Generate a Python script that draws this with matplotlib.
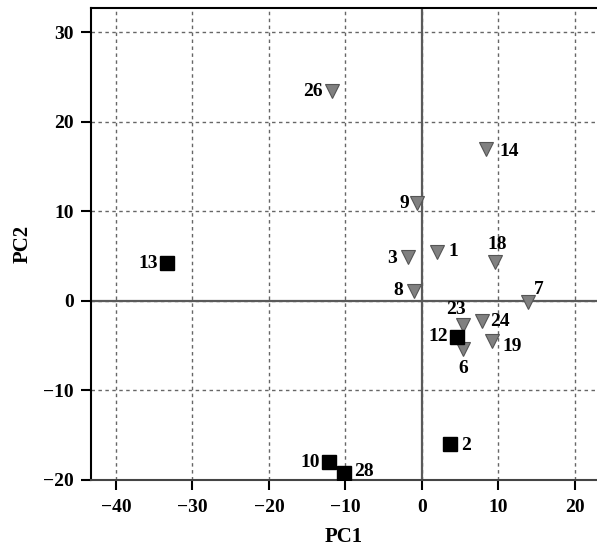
import matplotlib
matplotlib.use("Agg")
import matplotlib.pyplot as plt

# PCA scores
labels_tri = ["26", "14", "9", "1", "3", "18", "8", "7", "23", "24", "6", "19"]
pc1_tri = [-11.8, 8.4, -0.6, 2.0, -1.75, 9.6, -1.0, 13.9, 5.35, 7.8, 5.35, 9.2]
pc2_tri = [23.4, 17.0, 10.9, 5.5, 4.9, 4.3, 1.15, -0.15, -2.7, -2.3, -5.4, -4.5]

labels_sq = ["13", "12", "2", "10", "28"]
pc1_sq = [-33.3, 4.6, 3.7, -12.1, -10.2]
pc2_sq = [4.2, -4.0, -16.0, -18.0, -19.2]

x_ticks = [-40, -30, -20, -10, 0, 10, 20]
y_ticks = [-20, -10, 0, 10, 20, 30]

# label placement (offset in pixels, ha, va)
label_pos = {
    "26": (-9, 0, "right", "center"), "14": (13, -3, "left", "center"),
    "9": (-8, 0, "right", "center"), "1": (11, 0, "left", "center"),
    "3": (-12, -2, "right", "center"), "18": (2, 9, "center", "bottom"),
    "8": (-11, 0, "right", "center"), "7": (6, 4, "left", "bottom"),
    "23": (-7, 7, "center", "bottom"), "24": (9, 0, "left", "center"),
    "6": (0, -11, "center", "top"), "19": (10, -5, "left", "center"),
    "13": (-9, 0, "right", "center"), "12": (-9, 0, "right", "center"),
    "2": (11, -1, "left", "center"), "10": (-9, 0, "right", "center"),
    "28": (10, 1, "left", "center"),
}

plt.rcParams['font.family'] = ['Liberation Serif', 'DejaVu Serif']
plt.rcParams['axes.unicode_minus'] = True

fig = plt.figure(figsize=(5.97, 5.51), dpi=100)
ax = fig.add_axes([0.152, 0.129, 0.848, 0.8565])

ax.set_xlim(-43.3, 22.9)
ax.set_ylim(-20, 32.7)

ax.grid(True, color='#666666', linestyle=(0, (2.5, 2.5)), linewidth=1.0)
ax.set_axisbelow(True)
ax.axhline(0, color='#5a5a5a', linewidth=1.6, zorder=1.5)
ax.axvline(0, color='#5a5a5a', linewidth=1.6, zorder=1.5)

ax.plot(pc1_tri, pc2_tri, linestyle='none', marker='v', markersize=10.5,
        markerfacecolor='#808080', markeredgecolor='#555555', markeredgewidth=0.8, zorder=3)
ax.plot(pc1_sq, pc2_sq, linestyle='none', marker='s', markersize=9.5,
        markerfacecolor='black', markeredgecolor='black', zorder=3)

for lab, x, y in list(zip(labels_tri, pc1_tri, pc2_tri)) + list(zip(labels_sq, pc1_sq, pc2_sq)):
    dx, dy, ha, va = label_pos[lab]
    ax.annotate(lab, (x, y), xytext=(dx, dy), textcoords='offset pixels',
                ha=ha, va=va, fontsize=14, fontweight='bold', zorder=4)

ax.set_xticks(x_ticks)
ax.set_yticks(y_ticks)
ax.tick_params(axis='both', direction='out', length=7, width=1.5, labelsize=14)
ax.tick_params(axis='x', pad=7)
ax.tick_params(axis='y', pad=5)
for t in ax.get_xticklabels() + ax.get_yticklabels():
    t.set_fontweight('bold')

ax.spines['right'].set_visible(False)
for s in ['left', 'top']:
    ax.spines[s].set_linewidth(1.5)
ax.spines['bottom'].set_linewidth(1.5)
ax.spines['bottom'].set_color('#444444')

ax.set_xlabel('PC1', fontsize=15, fontweight='bold', labelpad=8)
ax.set_ylabel('PC2', fontsize=15, fontweight='bold', labelpad=8)

fig.savefig('out.png', dpi=100)
